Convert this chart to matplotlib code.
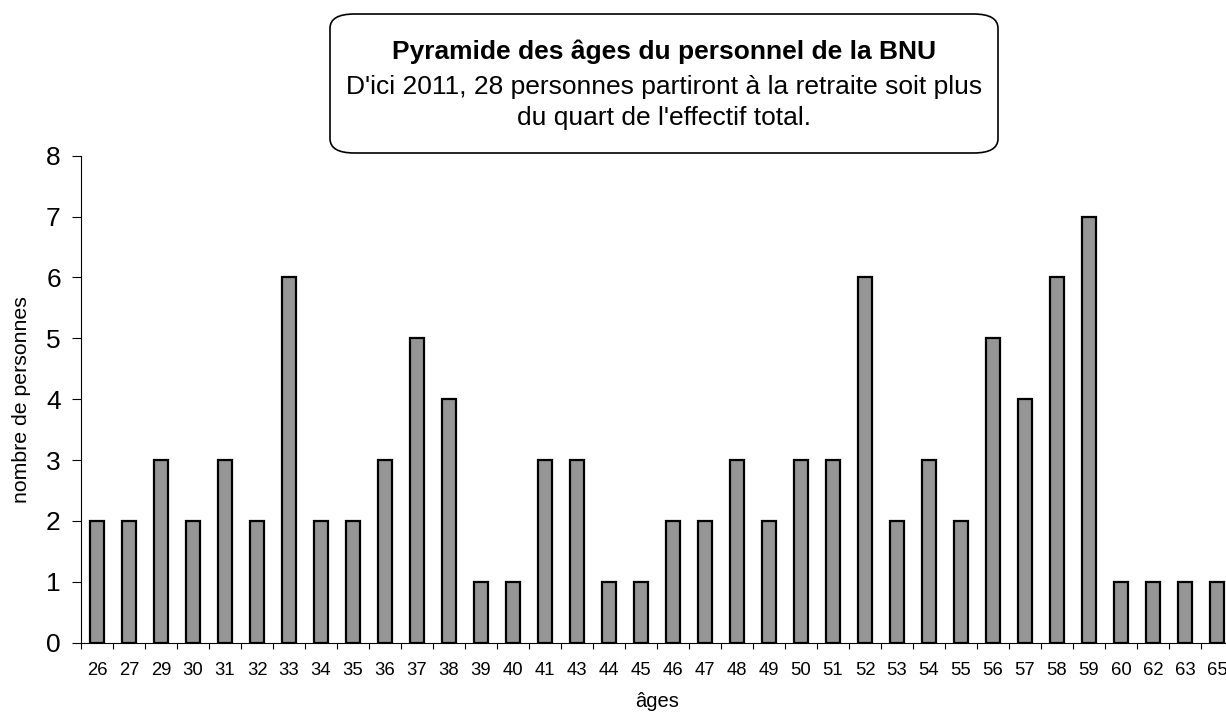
import numpy as np
import matplotlib.pyplot as plt
from matplotlib.patches import FancyBboxPatch

plt.rcParams['font.family'] = ['Liberation Sans', 'DejaVu Sans']

# ----------- données -----------
ages = ["26", "27", "29", "30", "31", "32", "33", "34", "35", "36", "37", "38",
        "39", "40", "41", "43", "44", "45", "46", "47", "48", "49", "50", "51",
        "52", "53", "54", "55", "56", "57", "58", "59", "60", "62", "63", "65"]
personnes = [2, 2, 3, 2, 3, 2, 6, 2, 2, 3, 5, 4,
             1, 1, 3, 3, 1, 1, 2, 2, 3, 2, 3, 3,
             6, 2, 3, 2, 5, 4, 6, 7, 1, 1, 1, 1]

titre = "Pyramide des âges du personnel de la BNU"
lignes = ["D'ici 2011, 28 personnes partiront à la retraite soit plus",
          "du quart de l'effectif total."]

# ----------- figure -----------
fig = plt.figure(figsize=(12.26, 7.13), dpi=100)
ax = fig.add_axes([81 / 1226, 1 - 642.7 / 713, 1152 / 1226, (642.7 - 155.7) / 713])

x = np.arange(len(ages))
ax.bar(x, personnes, width=0.45, color="#969696", edgecolor="black", linewidth=1.6)

ax.set_xlim(-0.5, len(ages) - 0.5)
ax.set_ylim(0, 8)
ax.set_yticks(range(0, 9))
ax.tick_params(axis="y", labelsize=19, length=6.5, width=0.8, pad=8)

# étiquettes au centre, graduations entre catégories
ax.set_xticks(x)
ax.set_xticklabels(ages, fontsize=13.3)
ax.set_xticks(np.arange(-0.5, len(ages)), minor=True)
ax.tick_params(axis="x", which="major", length=0, pad=14)
ax.tick_params(axis="x", which="minor", length=4, width=0.8)

for side in ("top", "right"):
    ax.spines[side].set_visible(False)
for side in ("left", "bottom"):
    ax.spines[side].set_linewidth(0.8)

ax.set_xlabel("âges", fontsize=14.5, labelpad=9)
ax.set_ylabel("nombre de personnes", fontsize=15.3, labelpad=11)

# ----------- encadré du titre -----------
box = FancyBboxPatch((330 / 1226, 1 - 153 / 713), (998 - 330) / 1226, (153 - 14) / 713,
                     boxstyle="round,pad=0,rounding_size=0.02",
                     transform=fig.transFigure, facecolor="white",
                     edgecolor="black", linewidth=1.2)
fig.patches.append(box)
fig.text(664 / 1226, 1 - 52 / 713, titre, ha="center", va="center",
         fontsize=19, fontweight="bold")
for i, ligne in enumerate(lignes):
    fig.text(664 / 1226, 1 - (87 + 31 * i) / 713, ligne, ha="center", va="center",
             fontsize=19)

fig.savefig("out.png", dpi=100)
